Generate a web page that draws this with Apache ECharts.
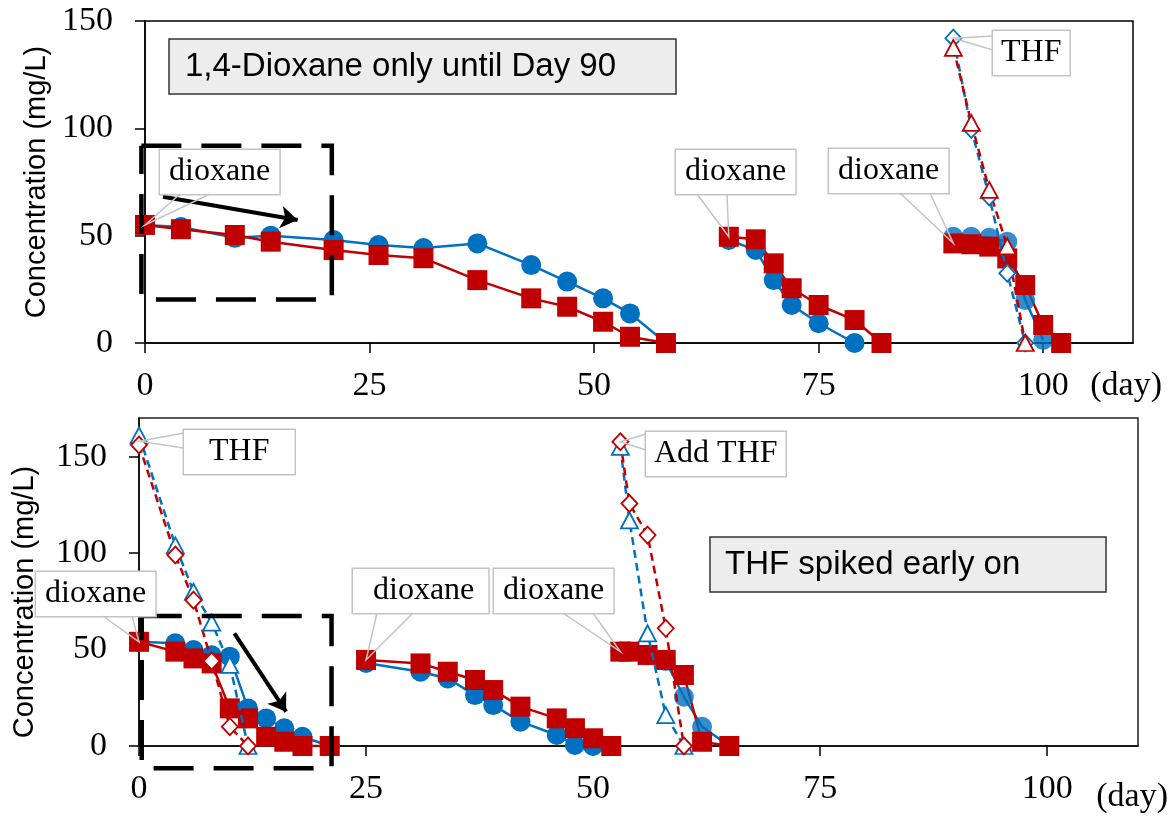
<!DOCTYPE html>
<html>
<head>
<meta charset="utf-8">
<script src="https://cdn.jsdelivr.net/npm/echarts@6/dist/echarts.min.js"></script>
<style>html,body{margin:0;padding:0;background:#fff}#main{width:1172px;height:821px}</style>
</head>
<body>
<div id="main"></div>
<script>
var BLUE = '#0070C0', RED = '#C00000';

// x ticks (day) and y ticks (mg/L)
var xTicks = [0, 25, 50, 75, 100];
var yTicksTop = [0, 50, 100, 150];
var yTicksBot = [0, 50, 100, 150];

// top panel: 1,4-dioxane only until day 90
var topDioxBlue1 = [[0,55],[4,54],[10,49],[14,50],[21,48],[26,45.6],[31,44.2],[37,46.4],[43,36.3],[47,28.6],[51,20.8],[54,13.8],[58,0]];
var topDioxRed1  = [[0,55],[4,53],[10,50.3],[14,47.2],[21,43.3],[26,41],[31,39.5],[37,29.3],[43,20.8],[47,16.9],[51,9.9],[54,2.9],[58,0]];
var topDioxBlue2 = [[65,48],[68,43.3],[70,29.3],[72,17.7],[75,9.2],[79,0]];
var topDioxRed2  = [[65,49.5],[68,48.3],[70,37.1],[72,25.5],[75,17.7],[79,10.7],[82,0]];
var topDioxBlue3 = [[90,49.5],[92,49.5],[94,49],[96,47.2],[98,20],[100,1.4]];
var topDioxRed3  = [[90,46.4],[92,46],[94,44.9],[96,39.4],[98,27],[100,8.4],[102,0]];
var topThfBlue   = [[90,142],[92,99.5],[94,68],[96,32.5],[98,0]];
var topThfRed    = [[90,137.5],[92,102.5],[94,71.3],[96,45],[98,0]];

// bottom panel: THF spiked early on
var botDioxBlue1 = [[0,54],[4,53.2],[6,49.7],[8,47],[10,46.3],[12,19.5],[14,14.3],[16,9.2],[18,4.8],[21,0]];
var botDioxRed1  = [[0,54],[4,48.9],[6,45.4],[8,42.8],[10,19.5],[12,14.3],[14,4.8],[16,2.2],[18,0],[21,0]];
var botDioxBlue2 = [[25,43],[31,38.5],[34,35],[37,26.4],[39,21.2],[42,12.6],[46,5.7],[48,0.5],[50,0]];
var botDioxRed2  = [[25,44.6],[31,42.8],[34,38.5],[37,34.2],[39,29],[42,20.4],[46,14.3],[48,9.2],[50,4],[52,0]];
var botDioxBlue3 = [[53,49],[54,49],[56,47],[58,44],[60,25.5],[62,10],[65,0]];
var botDioxRed3  = [[53,48.9],[54,48.9],[56,47.2],[58,44.6],[60,36.8],[62,2.2],[65,0]];
var botThfBlue1  = [[0,161],[4,104],[6,80],[8,64],[10,42],[12,0]];
var botThfRed1   = [[0,156],[4,99],[6,75.6],[8,44],[10,10],[12,0]];
var botThfBlue3  = [[53,155],[54,117],[56,58.4],[58,16],[60,0]];
var botThfRed3   = [[53,157.7],[54,125.7],[56,109.3],[58,61],[60,0]];

// callout texts and the points they point at
var topCallText = ['dioxane', 'dioxane', 'dioxane', 'THF'];
var topCallAt   = [[0,55],[65,49.5],[90,46.4],[90,142]];
var botCallText = ['THF', 'Add THF', 'dioxane', 'dioxane', 'dioxane'];
var botCallAt   = [[0,158],[53,157.7],[0,54],[25,44.6],[53,48.9]];

// callout box placement (px): left, top, padLeft, padRight, wedge base a (dx,dy), wedge base b (dx,dy)
var topCallBox = [
    [160,150,9,9, 20,44, 50,44],
    [676,150,9,9, 21,44, 51,44],
    [829,149,9,9, 71,44, 101,44],
    [993,31,8,8, 0,5, 0,19]
];
var botCallBox = [
    [184,430,25,25, 0,3, 0,18],
    [646,432,8,8, 0,2, 0,18],
    [36,572,9,9, 67,44, 96,44],
    [353,569,20,14, 24,44, 60,44],
    [494,569,9,9, 69,44, 99,44]
];

// dashed frames and arrows (data space)
var topFrame = [[-0.4,91.9],[20.8,91.9],[20.8,20.3],[-0.4,20.3],[-0.4,91.9]];
var topArrow = [[2,68.1],[17,57.3]];
var botFrame = [[0.3,67.4],[21.2,67.4],[21.2,-11.5],[0.3,-11.5],[0.3,67.4]];
var botArrow = [[10.5,58.4],[16.2,17.8]];

var myChart = echarts.init(document.getElementById('main'));

function dioxLine(data, g, color, symbol, op) {
    return {
        type: 'line', xAxisIndex: g, yAxisIndex: g, data: data,
        symbol: symbol, symbolSize: 20, z: 3,
        itemStyle: {color: color, opacity: op || 1},
        lineStyle: {color: color, width: 2.5}
    };
}
function thfLine(data, g, color, symbol) {
    return {
        type: 'line', xAxisIndex: g, yAxisIndex: g, data: data,
        symbol: symbol, symbolSize: symbol == 'diamond' ? [16,17] : [17,16], z: 5,
        itemStyle: {color: '#fff', borderColor: color, borderWidth: 1.8},
        lineStyle: {color: color, width: 2.5, type: [8, 5]}
    };
}
// text boxes of the callouts
function callouts(texts, at, boxes, g) {
    return {
        type: 'scatter', xAxisIndex: g, yAxisIndex: g, z: 10, silent: true,
        symbolSize: 0.5, itemStyle: {color: '#000'},
        data: texts.map(function (t, i) {
            return {name: t, value: at[i], label: {padding: [3, boxes[i][3], 3, boxes[i][2]]}};
        }),
        label: {
            show: true, formatter: '{b}', fontFamily: 'Liberation Serif', fontSize: 32, color: '#000',
            opacity: 1, textBorderWidth: 0, lineHeight: 38,
            backgroundColor: '#fff', borderColor: '#c4c4c4', borderWidth: 1.5
        },
        labelLayout: function (p) {
            var b = boxes[p.dataIndex];
            return {x: b[0], y: b[1], align: 'left', verticalAlign: 'top'};
        }
    };
}
function frame(coords, g) {
    return {
        type: 'lines', coordinateSystem: 'cartesian2d', xAxisIndex: g, yAxisIndex: g,
        polyline: true, clip: false, silent: true, z: 6,
        data: [{coords: coords}],
        lineStyle: {color: '#000', width: 4.5, type: [40, 20], opacity: 1}
    };
}
function arrow(coords, g) {
    return {
        type: 'lines', coordinateSystem: 'cartesian2d', xAxisIndex: g, yAxisIndex: g,
        clip: false, silent: true, z: 6,
        symbol: ['none', 'arrow'], symbolSize: 17,
        data: [{coords: coords}],
        lineStyle: {color: '#000', width: 4, opacity: 1}
    };
}

var axisFont = {fontFamily: 'Liberation Serif', fontSize: 34, color: '#000'};

function xAxisDef(g, gap, padTop) {
    return {
        type: 'value', gridIndex: g, min: 0, max: 110, interval: 25,
        axisLine: {lineStyle: {color: '#000', width: 1.5}},
        axisTick: {length: 10, customValues: xTicks, lineStyle: {color: '#000', width: 1.5}},
        axisLabel: Object.assign({customValues: xTicks, margin: 26}, axisFont),
        splitLine: {show: false},
        name: '(day)', nameLocation: 'end', nameGap: gap,
        nameTextStyle: Object.assign({align: 'right', verticalAlign: 'top', padding: [padTop, 0, 0, 0]}, axisFont)
    };
}
function yAxisDef(g, max, ticks, gap, shift) {
    return {
        type: 'value', gridIndex: g, min: 0, max: max, interval: 50,
        axisLine: {show: true, lineStyle: {color: '#000', width: 1.5}},
        axisTick: {show: true, length: 10, customValues: ticks, lineStyle: {color: '#000', width: 1.5}},
        axisLabel: Object.assign({customValues: ticks, margin: 32}, axisFont),
        splitLine: {show: false},
        name: 'Concentration (mg/L)', nameLocation: 'middle', nameRotate: 90, nameGap: gap,
        nameTextStyle: {fontFamily: 'Liberation Sans', fontSize: 29, color: '#000', padding: [0, shift, 0, 0]}
    };
}

var boxText = {fontFamily: 'Liberation Sans', fontSize: 33, fontWeight: 'normal', color: '#000', lineHeight: 37};

option = {
    animation: false,
    backgroundColor: '#fff',
    title: [
        {text: '1,4-Dioxane only until Day 90', left: 169, top: 39, padding: [9, 60, 9, 16],
         backgroundColor: '#ededed', borderColor: '#333', borderWidth: 1.5, textStyle: boxText},
        {text: 'THF spiked early on', left: 710, top: 537, padding: [9, 86, 9, 15],
         backgroundColor: '#ededed', borderColor: '#333', borderWidth: 1.5, textStyle: boxText}
    ],
    grid: [
        {left: 145, top: 21, width: 988, height: 322, show: true, borderColor: '#000', borderWidth: 1.5, backgroundColor: 'transparent'},
        {left: 139, top: 418, width: 999, height: 328, show: true, borderColor: '#222', borderWidth: 1.5, backgroundColor: 'transparent'}
    ],
    xAxis: [xAxisDef(0, 29, 26), xAxisDef(1, 30, 34)],
    yAxis: [yAxisDef(0, 150, yTicksTop, 94, 0), yAxisDef(1, 170, yTicksBot, 100, 40)],
    series: [
        dioxLine(topDioxBlue1, 0, BLUE, 'circle'),
        dioxLine(topDioxBlue2, 0, BLUE, 'circle'),
        dioxLine(topDioxBlue3, 0, BLUE, 'circle', 0.8),
        dioxLine(topDioxRed1, 0, RED, 'rect'),
        dioxLine(topDioxRed2, 0, RED, 'rect'),
        dioxLine(topDioxRed3, 0, RED, 'rect'),
        thfLine(topThfBlue, 0, BLUE, 'diamond'),
        thfLine(topThfRed, 0, RED, 'triangle'),
        dioxLine(botDioxBlue1, 1, BLUE, 'circle'),
        dioxLine(botDioxBlue2, 1, BLUE, 'circle'),
        dioxLine(botDioxBlue3, 1, BLUE, 'circle', 0.8),
        dioxLine(botDioxRed1, 1, RED, 'rect'),
        dioxLine(botDioxRed2, 1, RED, 'rect'),
        dioxLine(botDioxRed3, 1, RED, 'rect'),
        thfLine(botThfBlue1, 1, BLUE, 'triangle'),
        thfLine(botThfRed1, 1, RED, 'diamond'),
        thfLine(botThfBlue3, 1, BLUE, 'triangle'),
        thfLine(botThfRed3, 1, RED, 'diamond'),
        frame(topFrame, 0),
        arrow(topArrow, 0),
        frame(botFrame, 1),
        arrow(botArrow, 1),
        callouts(topCallText, topCallAt, topCallBox, 0),
        callouts(botCallText, botCallAt, botCallBox, 1)
    ]
};

myChart.setOption(option);

// callout wedges: from two points on the box edge to the data point (pixel via the grid's scales)
function wedges(at, boxes, g) {
    return at.map(function (pt, i) {
        var b = boxes[i];
        var p = myChart.convertToPixel({gridIndex: g}, pt);
        return {
            type: 'polyline', silent: true, z: 50,
            shape: {points: [[b[0] + b[4], b[1] + b[5]], p, [b[0] + b[6], b[1] + b[7]]]},
            style: {stroke: '#c4c4c4', lineWidth: 1.5, fill: null}
        };
    });
}
myChart.setOption({graphic: wedges(topCallAt, topCallBox, 0).concat(wedges(botCallAt, botCallBox, 1))});
</script>
</body>
</html>
